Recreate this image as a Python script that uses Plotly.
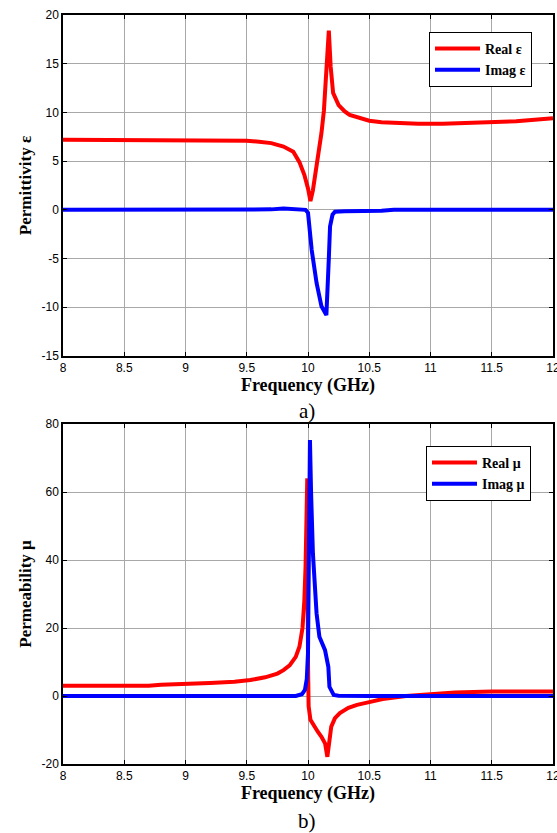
import plotly.graph_objects as go

# ---- data ----
f_eps_real = [8.0, 8.5, 9.0, 9.1, 9.3, 9.5, 9.6, 9.7, 9.8, 9.88, 9.93, 9.97, 10.0, 10.02, 10.04, 10.07,
              10.11, 10.13, 10.15, 10.17, 10.185, 10.205, 10.25, 10.3, 10.34, 10.4, 10.5, 10.6, 10.75,
              10.9, 11.1, 11.3, 11.5, 11.7, 11.9, 12.0]
eps_real = [7.2, 7.2, 7.2, 7.15, 7.15, 7.1, 7.0, 6.85, 6.5, 5.97, 4.9, 3.6, 2.2, 0.9, 2.0, 4.4,
            7.9, 10.2, 14.7, 18.4, 14.7, 12.0, 10.76, 10.1, 9.74, 9.5, 9.15, 9.0, 8.9,
            8.85, 8.85, 8.9, 9.0, 9.1, 9.3, 9.4]

f_eps_imag = [8.0, 9.0, 9.7, 9.8, 9.9, 9.98, 10.0, 10.015, 10.03, 10.07, 10.11, 10.15, 10.16,
              10.17, 10.18, 10.2, 10.22, 10.3, 10.6, 10.7, 11.0, 12.0]
eps_imag = [0, 0, 0.05, 0.15, 0.05, 0, -0.3, -2.5, -4.1, -7.5, -9.9, -10.8, -8.5,
            -5.0, -1.7, -0.5, -0.2, -0.15, -0.1, 0, 0, 0]

f_mu_real = [8.0, 8.5, 8.7, 8.8, 9.0, 9.2, 9.4, 9.53, 9.65, 9.75, 9.8, 9.85, 9.9, 9.93, 9.955, 9.97,
             9.98, 9.988, 9.994, 10.0, 10.005, 10.02, 10.05, 10.08, 10.11, 10.14, 10.158, 10.175,
             10.19, 10.22, 10.26, 10.33, 10.4, 10.5, 10.61, 10.8, 11.0, 11.2, 11.5, 12.0]
mu_real = [3.0, 3.0, 3.0, 3.3, 3.5, 3.8, 4.2, 4.7, 5.5, 6.6, 7.6, 9.0, 11.5, 14.5, 20, 28,
           38, 50, 64, 10, -3, -7, -9, -10.5, -12, -14, -17.9, -13,
           -9, -6.5, -5, -3.5, -2.6, -1.8, -0.9, 0, 0.6, 1.0, 1.3, 1.3]

f_mu_imag = [8.0, 9.0, 9.9, 9.95, 9.975, 9.99, 10.0, 10.008, 10.016, 10.025, 10.04, 10.07, 10.093,
             10.139, 10.166, 10.175, 10.21, 10.25, 10.5, 12.0]
mu_imag = [0, 0, 0, 0.5, 1.8, 5, 12.6, 45, 75.3, 60, 42, 24.3, 17.4,
           13.5, 8.6, 2.7, 0.3, 0.1, 0, 0]

x_ticks = [8, 8.5, 9, 9.5, 10, 10.5, 11, 11.5, 12]
x_tick_text = ["8", "8.5", "9", "9.5", "10", "10.5", "11", "11.5", "12"]
eps_ticks = [-15, -10, -5, 0, 5, 10, 15, 20]
eps_tick_text = ["-15", "-10", "-5", "0", "5", "10", "15", "20"]
mu_ticks = [-20, 0, 20, 40, 60, 80]
mu_tick_text = ["-20", "0", "20", "40", "60", "80"]

RED = "rgb(255,0,0)"
BLUE = "rgb(0,0,255)"
LW = 4

fig = go.Figure()
fig.add_trace(go.Scatter(x=f_eps_real, y=eps_real, mode="lines", name="<b>Real ε</b>",
                         line=dict(color=RED, width=LW), xaxis="x", yaxis="y", legend="legend"))
fig.add_trace(go.Scatter(x=f_eps_imag, y=eps_imag, mode="lines", name="<b>Imag ε</b>",
                         line=dict(color=BLUE, width=LW), xaxis="x", yaxis="y", legend="legend"))
fig.add_trace(go.Scatter(x=f_mu_real, y=mu_real, mode="lines", name="<b>Real μ</b>",
                         line=dict(color=RED, width=LW), xaxis="x2", yaxis="y2", legend="legend2"))
fig.add_trace(go.Scatter(x=f_mu_imag, y=mu_imag, mode="lines", name="<b>Imag μ</b>",
                         line=dict(color=BLUE, width=LW), xaxis="x2", yaxis="y2", legend="legend2"))

W, H = 557, 833
ML, MR, MT, MB = 63, 4, 15, 69
PH = H - MT - MB
PW = W - ML - MR


def py(pix):
    return (H - MB - pix) / PH


def px(pix):
    return (pix - ML) / PW


tick_font = dict(family="Liberation Sans, Arial", size=12, color="black")
serif = "Liberation Serif, Times New Roman"
xtitle_font = dict(family=serif, size=18, color="black")
ytitle_font = dict(family=serif, size=17, color="black")
grid = "#a8a8a8"

common_x = dict(range=[7.9999, 12.0001], tickvals=x_ticks, ticktext=x_tick_text, showgrid=True,
                gridcolor=grid, gridwidth=1, zeroline=False, showline=True, linecolor="black",
                linewidth=1.5, mirror="ticks", ticks="inside", ticklen=4, tickcolor="black",
                tickfont=tick_font, ticklabeloverflow="allow", automargin=False)
common_y = dict(showgrid=True, gridcolor=grid, gridwidth=1, zeroline=False, showline=True,
                linecolor="black", linewidth=1.5, mirror="ticks", ticks="inside", ticklen=4,
                tickcolor="black", tickfont=tick_font, automargin=False)

legend_common = dict(xanchor="left", yanchor="top", bordercolor="black", borderwidth=1,
                     bgcolor="white", font=dict(family=serif, size=14, color="black"),
                     tracegroupgap=0, itemwidth=45)

fig.update_layout(
    width=W, height=H,
    margin=dict(l=ML, r=MR, t=MT, b=MB, autoexpand=False),
    paper_bgcolor="white", plot_bgcolor="white",
    xaxis=dict(**common_x, domain=[0, 1], anchor="y",
               title=dict(text="<b>Frequency (GHz)</b>", font=xtitle_font, standoff=1)),
    yaxis=dict(**common_y, range=[-15.001, 20.001], tickvals=eps_ticks, ticktext=eps_tick_text,
               domain=[py(356), 1], anchor="x",
               title=dict(text="<b>Permittivity ε</b>", font=ytitle_font, standoff=6)),
    xaxis2=dict(**common_x, domain=[0, 1], anchor="y2",
                title=dict(text="<b>Frequency (GHz)</b>", font=xtitle_font, standoff=1)),
    yaxis2=dict(**common_y, range=[-20.001, 80.001], tickvals=mu_ticks, ticktext=mu_tick_text,
                domain=[0, py(424)], anchor="x2",
                title=dict(text="<b>Permeability μ</b>", font=ytitle_font, standoff=6)),
    legend=dict(x=px(429), y=py(32), **legend_common),
    legend2=dict(x=px(426), y=py(446), **legend_common),
    showlegend=True,
    annotations=[
        dict(text="a)", x=px(307), y=py(411), xref="paper", yref="paper", xanchor="center",
             yanchor="middle", showarrow=False, font=dict(family=serif, size=21, color="black")),
        dict(text="b)", x=px(307), y=py(821), xref="paper", yref="paper", xanchor="center",
             yanchor="middle", showarrow=False, font=dict(family=serif, size=21, color="black")),
    ],
)

fig.write_html("out.html")
